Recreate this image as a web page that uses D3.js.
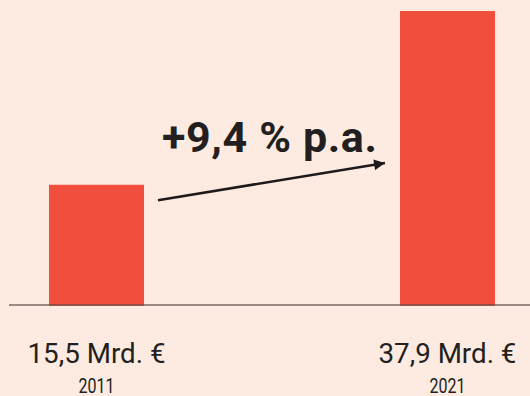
<!DOCTYPE html>
<html>
<head>
<meta charset="utf-8">
<script src="https://cdn.jsdelivr.net/npm/d3@7"></script>
<style>
  html, body { margin: 0; padding: 0; background: #fdebe2; }
  svg { display: block; }
  text { font-family: Roboto, "Noto Sans", sans-serif; fill: #231f20; }
</style>
</head>
<body>
<svg id="chart" width="530" height="396"></svg>
<script>
// Market volume, two reference years
const years = ["2011", "2021"];
const values = [15.5, 37.9];
const valueLabels = ["15,5 Mrd. €", "37,9 Mrd. €"];
const growthLabel = "+9,4 % p.a.";

const W = 530, H = 396;
const baseY = 305;

const svg = d3.select("#chart");
svg.append("rect").attr("width", W).attr("height", H).attr("fill", "#fdebe2");

const x = d3.scaleBand()
  .domain(years)
  .range([49, 495])
  .paddingInner(0.7293)
  .paddingOuter(0);

const y = d3.scaleLinear()
  .domain([0, 37.9])
  .range([baseY, 11]);

// Bars
svg.selectAll("rect.bar")
  .data(values)
  .join("rect")
  .attr("class", "bar")
  .attr("x", (d, i) => x(years[i]))
  .attr("y", d => y(d))
  .attr("width", x.bandwidth())
  .attr("height", d => y(0) - y(d) + 0.8)
  .attr("fill", "#ef4f3c");

// Baseline
svg.append("line")
  .attr("x1", 9).attr("x2", W)
  .attr("y1", y(0)).attr("y2", y(0))
  .attr("stroke", "#5a4a45")
  .attr("stroke-opacity", 0.8)
  .attr("stroke-width", 1.6);

// Value labels under the bars
svg.selectAll("text.val")
  .data(valueLabels)
  .join("text")
  .attr("class", "val")
  .attr("x", (d, i) => x(years[i]) + x.bandwidth() / 2)
  .attr("y", 362.5)
  .attr("text-anchor", "middle")
  .attr("font-size", 27.5)
  .attr("textLength", 138)
  .attr("lengthAdjust", "spacingAndGlyphs")
  .text(d => d);

// Year labels
svg.selectAll("text.year")
  .data(years)
  .join("text")
  .attr("class", "year")
  .attr("x", (d) => x(d) + x.bandwidth() / 2)
  .attr("y", 392.5)
  .attr("text-anchor", "middle")
  .attr("font-size", 19.5)
  .attr("textLength", 36)
  .attr("lengthAdjust", "spacingAndGlyphs")
  .text(d => d);

// Growth arrow between the two bars
svg.append("defs").append("marker")
  .attr("id", "head")
  .attr("viewBox", "0 0 10 10")
  .attr("refX", 10).attr("refY", 5)
  .attr("markerWidth", 4.6).attr("markerHeight", 4.2)
  .attr("markerUnits", "strokeWidth")
  .attr("orient", "auto")
  .append("path")
  .attr("d", "M0,0 L10,5 L0,10 z")
  .attr("fill", "#1e1a1b");

const ax0 = x(years[0]) + x.bandwidth() + 14;
const ay0 = y(values[0]) + 15.5;
const ax1 = x(years[1]) - 15;
const ay1 = 163;

svg.append("line")
  .attr("x1", ax0).attr("y1", ay0)
  .attr("x2", ax1).attr("y2", ay1)
  .attr("stroke", "#1e1a1b")
  .attr("stroke-width", 2.6)
  .attr("marker-end", "url(#head)");

svg.append("text")
  .attr("x", 162)
  .attr("y", 152)
  .attr("font-size", 43)
  .attr("font-weight", 700)
  .attr("textLength", 215)
  .attr("lengthAdjust", "spacing")
  .text(growthLabel);
</script>
</body>
</html>
